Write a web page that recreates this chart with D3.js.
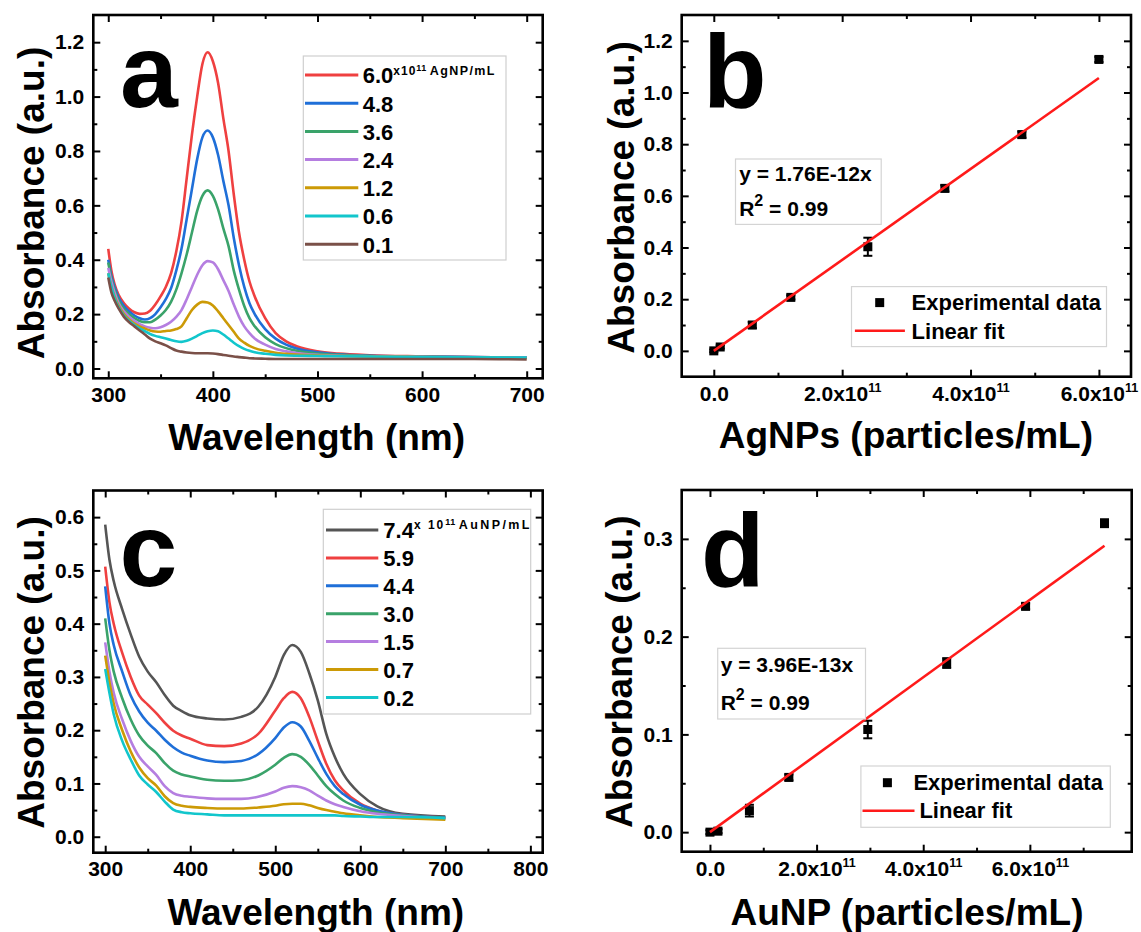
<!DOCTYPE html>
<html>
<head>
<meta charset="utf-8">
<script src="https://cdn.jsdelivr.net/npm/d3@7"></script>
<style>
  body { margin: 0; background: #fff; }
  svg { display: block; }
  text { font-family: "Liberation Sans", Arial, sans-serif; font-weight: bold; fill: #000; }
  .axes text { font: bold 21px "Liberation Sans", Arial, sans-serif; }
  .axes line { stroke: #000; stroke-width: 2; }
</style>
</head>
<body>
<svg id="fig" width="1141" height="932"></svg>
<script>
// ---------- (a) AgNP UV-Vis spectra ----------
const agWavelength = [300, 303, 306, 310, 315, 320, 325, 330, 335, 340, 345, 350, 355, 360, 365, 370, 375, 380, 385, 390,
                      395, 400, 405, 410, 415, 420, 425, 430, 435, 440, 450, 460, 470, 480, 500, 520, 550, 600, 650, 700];
const agAbs60 = [.44, .36, .31, .27, .24, .22, .207, .201, .202, .212, .235, .265, .30, .35, .43, .54, .70, .86, 1.00, 1.12,
                 1.163, 1.13, 1.05, .92, .80, .64, .50, .40, .32, .265, .185, .13, .10, .082, .063, .055, .049, .045, .042, .040];
const agAbs48 = [.40, .34, .30, .26, .23, .21, .195, .185, .18, .185, .20, .225, .255, .295, .36, .44, .55, .66, .77, .85,
                 .875, .85, .785, .69, .60, .48, .38, .30, .24, .20, .145, .11, .088, .074, .06, .052, .047, .044, .042, .04];
const agAbs36 = [.39, .33, .29, .25, .22, .20, .185, .175, .17, .17, .18, .195, .215, .245, .29, .35, .42, .50, .58, .635,
                 .655, .635, .585, .515, .45, .36, .29, .23, .185, .155, .115, .09, .075, .065, .055, .05, .046, .043, .041, .04];
const agAbs24 = [.37, .32, .28, .24, .21, .19, .175, .163, .155, .15, .148, .152, .16, .172, .19, .215, .255, .30, .345, .38,
                 .395, .39, .365, .325, .285, .235, .19, .155, .13, .11, .088, .072, .063, .057, .05, .047, .045, .043, .041, .04];
const agAbs12 = [.35, .30, .265, .23, .20, .18, .165, .155, .147, .14, .136, .135, .138, .14, .145, .155, .185, .215, .235, .245,
                 .243, .232, .21, .185, .16, .135, .11, .095, .083, .075, .065, .058, .054, .051, .048, .046, .044, .042, .04, .038];
const agAbs06 = [.35, .30, .26, .225, .195, .175, .16, .148, .137, .127, .12, .115, .11, .105, .10, .098, .102, .11, .12, .13,
                 .137, .14, .137, .125, .11, .095, .082, .072, .065, .06, .054, .05, .048, .047, .046, .045, .044, .042, .041, .04];
const agAbs01 = [.335, .28, .25, .22, .19, .17, .155, .14, .125, .11, .10, .093, .085, .075, .066, .062, .059, .057, .056, .056,
                 .056, .055, .053, .05, .047, .044, .042, .04, .038, .037, .036, .035, .035, .035, .035, .035, .035, .035, .035, .033];
const agLabels = ["6.0", "4.8", "3.6", "2.4", "1.2", "0.6", "0.1"];
const agColors = ["#ef4040", "#1f6fd8", "#3aa36a", "#b57ee0", "#cc9a06", "#12c6cc", "#7a5048"];
const agSpectra = [agAbs60, agAbs48, agAbs36, agAbs24, agAbs12, agAbs06, agAbs01];

// ---------- (b) AgNP calibration ----------
const agConc = [0, 0.1e11, 0.6e11, 1.2e11, 2.4e11, 3.6e11, 4.8e11, 6.0e11];
const agMean = [0, 0.015, 0.10, 0.207, 0.403, 0.629, 0.837, 1.128];
const agSd   = [0.005, 0.006, 0.012, 0.008, 0.035, 0.012, 0.012, 0.010];
const agSlope = 1.76e-12;

// ---------- (c) AuNP UV-Vis spectra ----------
const auWavelength = [300, 305, 310, 320, 330, 340, 350, 360, 370, 380, 390, 400, 420, 440, 460, 480, 500, 510, 520, 530,
                      540, 550, 560, 570, 580, 600, 620, 650, 700];
const auAbs74 = [.586, .52, .48, .427, .38, .338, .31, .29, .266, .246, .236, .228, .222, .22, .225, .244, .30, .341, .36, .347,
                 .307, .256, .193, .15, .118, .08, .057, .043, .038];
const auAbs59 = [.507, .44, .40, .345, .30, .265, .248, .232, .214, .199, .19, .184, .172, .17, .175, .193, .237, .26, .272, .26,
                 .225, .18, .137, .106, .087, .062, .049, .041, .036];
const auAbs44 = [.47, .40, .36, .31, .265, .235, .214, .199, .182, .168, .158, .152, .143, .14, .142, .155, .185, .205, .215, .207,
                 .18, .148, .118, .095, .08, .06, .049, .041, .036];
const auAbs30 = [.41, .35, .31, .26, .22, .19, .171, .157, .138, .124, .117, .113, .107, .105, .106, .115, .135, .148, .155, .15,
                 .135, .115, .095, .08, .068, .054, .046, .04, .035];
const auAbs15 = [.365, .31, .27, .22, .18, .15, .132, .116, .095, .082, .077, .075, .072, .071, .071, .075, .085, .092, .095, .093,
                 .087, .077, .068, .061, .056, .048, .043, .039, .034];
const auAbs07 = [.34, .29, .25, .20, .16, .13, .11, .096, .076, .063, .058, .056, .054, .053, .053, .055, .058, .061, .062, .062,
                 .059, .054, .05, .047, .044, .04, .037, .035, .032];
const auAbs02 = [.315, .27, .23, .18, .145, .115, .098, .084, .066, .051, .046, .044, .042, .04, .04, .04, .04, .04, .04, .04,
                 .04, .04, .04, .04, .039, .038, .037, .037, .035];
const auLabels = ["7.4", "5.9", "4.4", "3.0", "1.5", "0.7", "0.2"];
const auColors = ["#555555", "#ef4040", "#1f6fd8", "#3aa36a", "#b57ee0", "#cc9a06", "#12c6cc"];
const auSpectra = [auAbs74, auAbs59, auAbs44, auAbs30, auAbs15, auAbs07, auAbs02];

// ---------- (d) AuNP calibration ----------
const auConc = [0, 0.15e11, 0.74e11, 1.48e11, 2.96e11, 4.44e11, 5.92e11, 7.4e11];
const auMean = [0, 0.001, 0.022, 0.056, 0.105, 0.173, 0.231, 0.316];
const auSd   = [0.002, 0.002, 0.006, 0.003, 0.009, 0.005, 0.003, 0.004];
const auSlope = 3.96e-13;

// ---------- tick values ----------
const specXMajorA = [300, 400, 500, 600, 700];
const specXMinorA = [350, 450, 550, 650];
const specXMajorC = [300, 400, 500, 600, 700, 800];
const specXMinorC = [350, 450, 550, 650, 750];
const absMajorA = [0, 0.2, 0.4, 0.6, 0.8, 1.0, 1.2];
const absMinorA = [0.1, 0.3, 0.5, 0.7, 0.9, 1.1];
const absMajorC = [0, 0.1, 0.2, 0.3, 0.4, 0.5, 0.6];
const absMinorC = [0.05, 0.15, 0.25, 0.35, 0.45, 0.55];
const absMajorD = [0, 0.1, 0.2, 0.3];
const absMinorD = [0.05, 0.15, 0.25];
const concMajor = [0, 2e11, 4e11, 6e11];
const concMinorB = [1e11, 3e11, 5e11];
const concMinorD = [1e11, 3e11, 5e11, 7e11];
const concMantissa = ["0.0", "2.0", "4.0", "6.0"];

// ---------- panel frames ----------
const PA = { x0: 93.3, x1: 542.7, y0: 15, y1: 378.3, xd: [285.7, 715.3], yd: [-0.036, 1.3] };
const PB = { x0: 681.7, x1: 1131, y0: 15, y1: 376.7, xd: [-0.5e11, 6.5e11], yd: [-0.1, 1.3] };
const PC = { x0: 93.3, x1: 542.7, y0: 490.5, y1: 852.7, xd: [286, 814.5], yd: [-0.03, 0.65] };
const PD = { x0: 681.7, x1: 1131.7, y0: 490, y1: 851.7, xd: [-0.53e11, 7.91e11], yd: [-0.02, 0.35] };

const svg = d3.select("#fig");
svg.append("rect").attr("width", 1141).attr("height", 932).attr("fill", "#fff");

function scales(P) {
  return {
    sx: d3.scaleLinear().domain(P.xd).range([P.x0, P.x1]),
    sy: d3.scaleLinear().domain(P.yd).range([P.y1, P.y0])
  };
}

function drawAxes(P, s, xMaj, xMin, yMaj, yMin, xFmt, yFmt, xPad) {
  const ax = svg.append("g").attr("class", "axes");
  const add = (axis, tx, ty) => ax.append("g")
    .attr("transform", `translate(${tx},${ty})`)
    .call(axis)
    .call(g => g.select(".domain").remove());
  const bottom = add(d3.axisBottom(s.sx).tickValues(xMaj).tickSizeInner(-7).tickSizeOuter(0).tickPadding(xPad).tickFormat(xFmt), 0, P.y1);
  add(d3.axisBottom(s.sx).tickValues(xMin).tickSizeInner(-4).tickSizeOuter(0).tickFormat(""), 0, P.y1);
  add(d3.axisTop(s.sx).tickValues(xMaj).tickSizeInner(-7).tickSizeOuter(0).tickFormat(""), 0, P.y0);
  add(d3.axisTop(s.sx).tickValues(xMin).tickSizeInner(-4).tickSizeOuter(0).tickFormat(""), 0, P.y0);
  add(d3.axisLeft(s.sy).tickValues(yMaj).tickSizeInner(-7).tickSizeOuter(0).tickPadding(9).tickFormat(yFmt), P.x0, 0);
  add(d3.axisLeft(s.sy).tickValues(yMin).tickSizeInner(-4).tickSizeOuter(0).tickFormat(""), P.x0, 0);
  add(d3.axisRight(s.sy).tickValues(yMaj).tickSizeInner(-7).tickSizeOuter(0).tickFormat(""), P.x1, 0);
  add(d3.axisRight(s.sy).tickValues(yMin).tickSizeInner(-4).tickSizeOuter(0).tickFormat(""), P.x1, 0);
  ax.append("rect")
    .attr("x", P.x0).attr("y", P.y0)
    .attr("width", P.x1 - P.x0).attr("height", P.y1 - P.y0)
    .attr("fill", "none").attr("stroke", "#000").attr("stroke-width", 2.6);
  return bottom;
}

// scientific tick labels of the concentration axes: mantissa x10 with superscript exponent
function sciLabels(bottom) {
  bottom.selectAll(".tick text").each(function (d, i) {
    const t = d3.select(this);
    if (d === 0) { t.text(concMantissa[i]); return; }
    t.append("tspan").style("font-size", "21px").text(concMantissa[i] + "x10");
    t.append("tspan").attr("dy", -9).style("font-size", "12.5px").text("11");
  });
}

function axisTitles(P, xTitle, xCx, xBase, yCy, yBase) {
  svg.append("text").attr("x", xCx).attr("y", xBase)
    .attr("text-anchor", "middle").attr("font-size", 37).text(xTitle);
  svg.append("text")
    .attr("transform", `translate(${yBase},${yCy}) rotate(-90)`)
    .attr("text-anchor", "middle").attr("font-size", 37).text("Absorbance (a.u.)");
}

function panelLetter(ch, x, y) {
  svg.append("text").attr("x", x).attr("y", y).attr("font-size", 104).text(ch);
}

const fmt1 = d3.format(".1f");

// ---------- draw spectra panels ----------
function spectraPanel(P, wl, spectra, colors) {
  const s = scales(P);
  const clipId = "clip" + Math.round(P.y0);
  svg.append("clipPath").attr("id", clipId).append("rect")
    .attr("x", P.x0).attr("y", P.y0).attr("width", P.x1 - P.x0).attr("height", P.y1 - P.y0);
  const line = d3.line().x((d, i) => s.sx(wl[i])).y(d => s.sy(d)).curve(d3.curveMonotoneX);
  svg.append("g").attr("clip-path", `url(#${clipId})`)
    .selectAll("path").data(spectra).join("path")
    .attr("d", d => line(d))
    .attr("fill", "none")
    .attr("stroke", (d, i) => colors[i])
    .attr("stroke-width", 2.6)
    .attr("stroke-linejoin", "round");
  return s;
}

function spectraLegend(box, rows0, rowStep, lineX0, lineX1, textX, labels, colors, unit, supParts) {
  svg.append("rect").attr("x", box[0]).attr("y", box[1]).attr("width", box[2]).attr("height", box[3])
    .attr("fill", "#fff").attr("stroke", "#cfcfcf").attr("stroke-width", 1.2);
  labels.forEach((lab, i) => {
    const y = rows0 + i * rowStep;
    svg.append("line").attr("x1", lineX0).attr("x2", lineX1).attr("y1", y).attr("y2", y)
      .attr("stroke", colors[i]).attr("stroke-width", 3);
    const t = svg.append("text").attr("x", textX).attr("y", y + 8.3).attr("font-size", 22).text(lab);
    if (i === 0) {
      t.append("tspan").attr("dy", supParts.dy1).attr("font-size", 12).attr("letter-spacing", supParts.ls1).text(supParts.x10);
      t.append("tspan").attr("dy", -4).attr("font-size", 9).attr("letter-spacing", 0.5).text("11");
      t.append("tspan").attr("dy", 4).attr("dx", 3).attr("font-size", 12.5).attr("letter-spacing", supParts.ls2).text(unit);
    }
  });
}

// (a)
const sA = spectraPanel(PA, agWavelength, agSpectra, agColors);
drawAxes(PA, sA, specXMajorA, specXMinorA, absMajorA, absMinorA, d3.format("d"), fmt1, 8.5);
spectraLegend([303.3, 56, 202.7, 204], 75, 28.2, 305, 358.3, 362.7, agLabels, agColors, "AgNP/mL",
  { dy1: -8, ls1: 1, x10: "x10", ls2: 1.4 });
panelLetter("a", 120, 107);
axisTitles(PA, "Wavelength (nm)", 316.7, 449.5, 203, 44.3);

// (c)
const sC = spectraPanel(PC, auWavelength, auSpectra, auColors);
drawAxes(PC, sC, specXMajorC, specXMinorC, absMajorC, absMinorC, d3.format("d"), fmt1, 8.5);
spectraLegend([323.3, 509.3, 207.4, 204.7], 530, 27.9, 326, 378.3, 383.3, auLabels, auColors, "AuNP/mL",
  { dy1: -9, ls1: 2, x10: "x 10", ls2: 2.4 });
panelLetter("c", 119.5, 586);
axisTitles(PC, "Wavelength (nm)", 315.8, 925, 672.5, 44.3);

// ---------- calibration panels ----------
function calibrationPanel(P, conc, mean, sd, slope, xMinor, yMajor, yMinor) {
  const s = scales(P);
  const bottom = drawAxes(P, s, concMajor, xMinor, yMajor, yMinor, () => "", fmt1, 9.9);
  sciLabels(bottom);
  const pts = conc.map((c, i) => ({ c, m: mean[i], e: sd[i] }));
  const g = svg.append("g");
  g.selectAll("line.err").data(pts).join("line").attr("class", "err")
    .attr("x1", d => s.sx(d.c)).attr("x2", d => s.sx(d.c))
    .attr("y1", d => s.sy(d.m - d.e)).attr("y2", d => s.sy(d.m + d.e))
    .attr("stroke", "#000").attr("stroke-width", 2);
  [-1, 1].forEach(k => {
    g.selectAll(null).data(pts).join("line")
      .attr("x1", d => s.sx(d.c) - 4.5).attr("x2", d => s.sx(d.c) + 4.5)
      .attr("y1", d => s.sy(d.m + k * d.e)).attr("y2", d => s.sy(d.m + k * d.e))
      .attr("stroke", "#000").attr("stroke-width", 2);
  });
  g.selectAll("rect").data(pts).join("rect")
    .attr("x", d => s.sx(d.c) - 4.5).attr("y", d => s.sy(d.m) - 4.5)
    .attr("width", 9).attr("height", 9).attr("fill", "#000");
  const xEnd = conc[conc.length - 1];
  svg.append("line")
    .attr("x1", s.sx(0)).attr("y1", s.sy(0))
    .attr("x2", s.sx(xEnd)).attr("y2", s.sy(slope * xEnd))
    .attr("stroke", "#ff1a1a").attr("stroke-width", 2.6);
  return s;
}

function equationBox(box, tx, y1, y2, eq) {
  svg.append("rect").attr("x", box[0]).attr("y", box[1]).attr("width", box[2]).attr("height", box[3])
    .attr("fill", "#fff").attr("stroke", "#d4d4d4").attr("stroke-width", 1.2);
  svg.append("text").attr("x", tx).attr("y", y1).attr("font-size", 21).text(eq);
  const r = svg.append("text").attr("x", tx).attr("y", y2).attr("font-size", 21).text("R");
  r.append("tspan").attr("dy", -10).attr("font-size", 16).text("2");
  r.append("tspan").attr("dy", 10).text(" = 0.99");
}

function fitLegend(box, mx, my, tx1, ty1, lx0, lx1, ly, tx2, ty2) {
  svg.append("rect").attr("x", box[0]).attr("y", box[1]).attr("width", box[2]).attr("height", box[3])
    .attr("fill", "#fff").attr("stroke", "#d4d4d4").attr("stroke-width", 1.2);
  svg.append("rect").attr("x", mx - 4.5).attr("y", my - 4.5).attr("width", 9).attr("height", 9).attr("fill", "#000");
  svg.append("text").attr("x", tx1).attr("y", ty1).attr("font-size", 22).text("Experimental data");
  svg.append("line").attr("x1", lx0).attr("x2", lx1).attr("y1", ly).attr("y2", ly)
    .attr("stroke", "#ff1a1a").attr("stroke-width", 2.6);
  svg.append("text").attr("x", tx2).attr("y", ty2).attr("font-size", 22).text("Linear fit");
}

// (b)
calibrationPanel(PB, agConc, agMean, agSd, agSlope, concMinorB, absMajorA, absMinorA);
equationBox([735.5, 159, 145.7, 65.4], 739.2, 181.2, 216.1, "y = 1.76E-12x");
fitLegend([851.5, 286.6, 255, 60], 879.7, 302.6, 911.6, 310, 854.9, 904.9, 330.8, 911.6, 338.5);
panelLetter("b", 703, 107.3);
axisTitles(PB, "AgNPs (particles/mL)", 905.9, 447.5, 197.5, 634);

// (d)
calibrationPanel(PD, auConc, auMean, auSd, auSlope, concMinorD, absMajorD, absMinorD);
equationBox([717.7, 648.3, 147.8, 70.7], 720.7, 671.7, 710, "y = 3.96E-13x");
fitLegend([860.9, 766, 249.4, 61.3], 887.4, 782.7, 913.4, 790, 862.5, 914.5, 810.7, 919.4, 818.3);
panelLetter("d", 701, 586);
axisTitles(PD, "AuNP (particles/mL)", 907, 925, 671.7, 632);
</script>
</body>
</html>
